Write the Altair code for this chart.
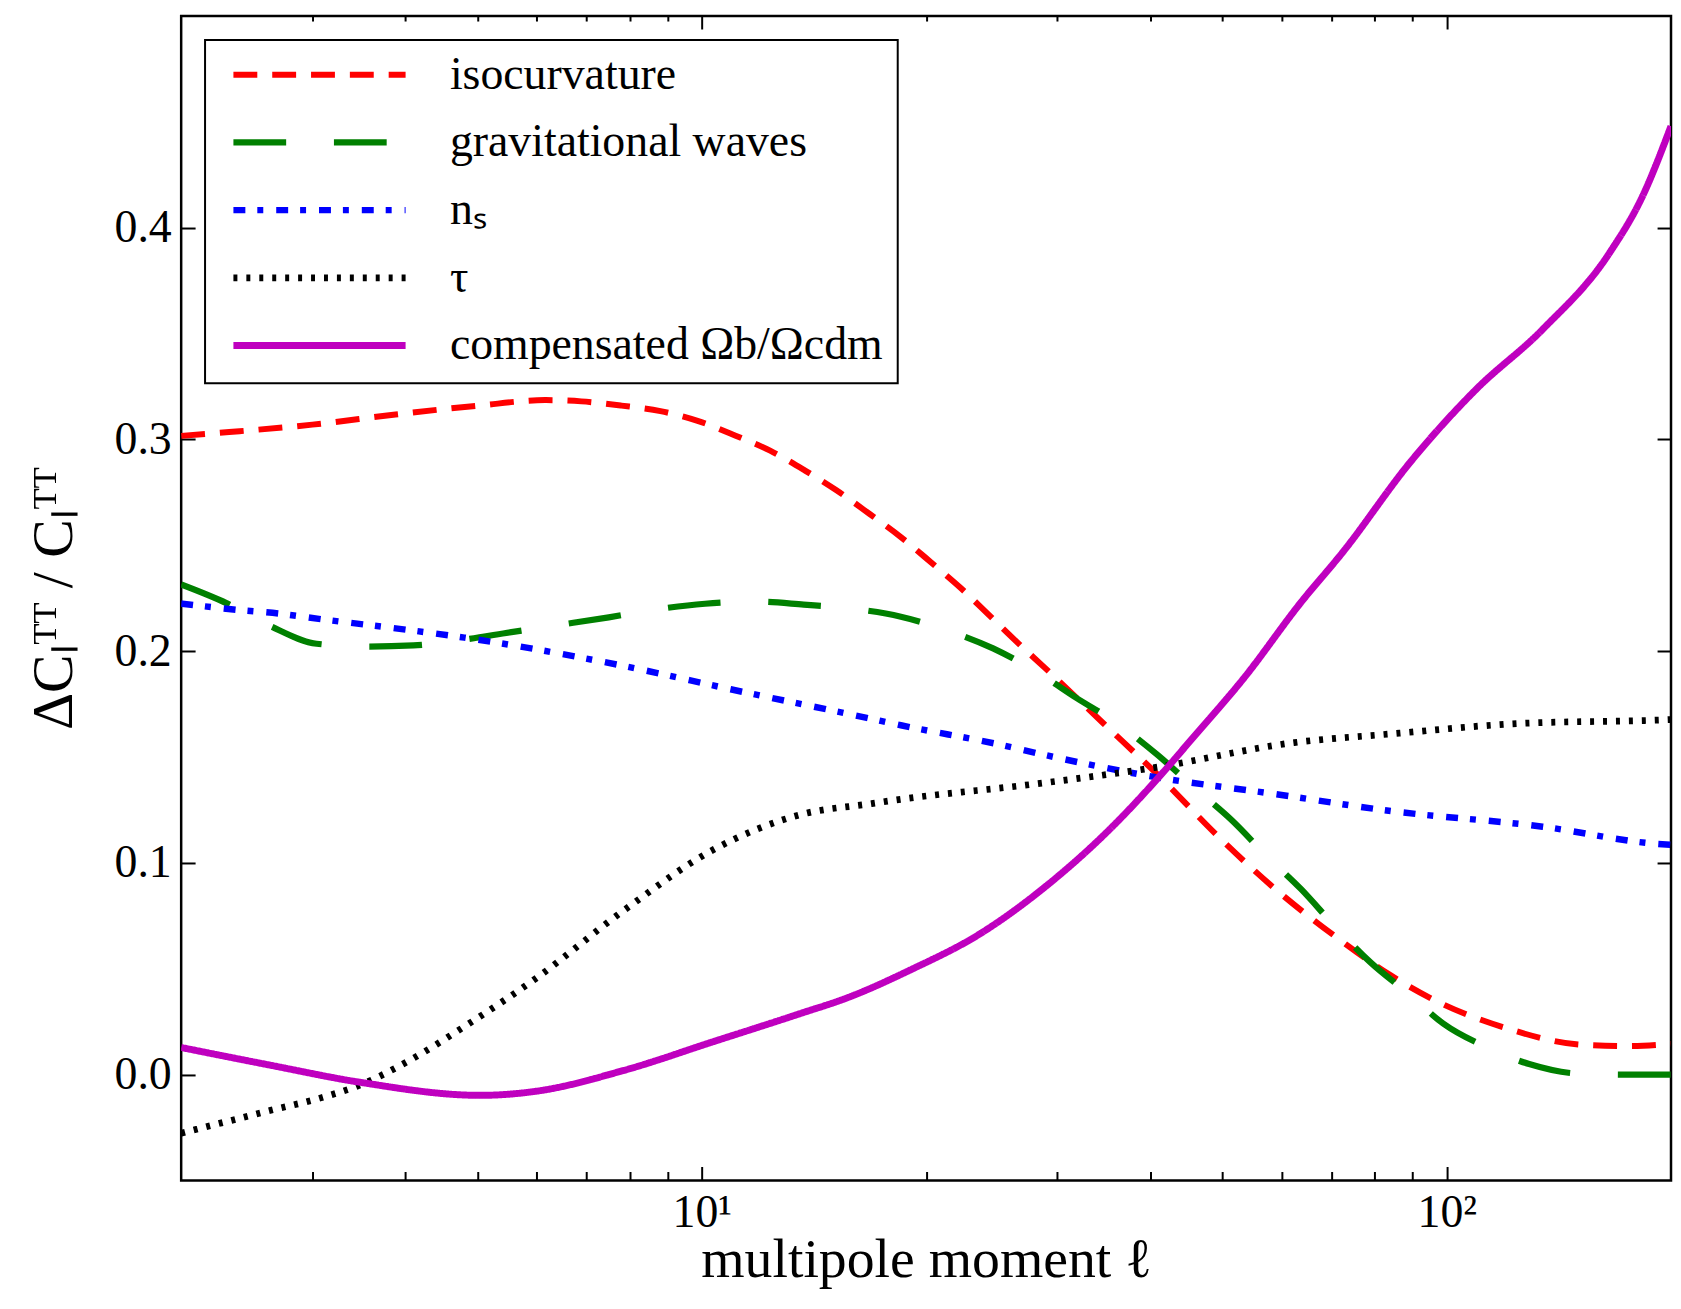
import altair as alt
import pandas as pd

FONT = "Liberation Serif"

# ---- data ----
iso_l = [2, 2.32, 3.0, 3.88, 5.02, 6.16, 6.89, 7.8, 8.8, 9.87, 11.1, 12.35, 13.76, 15.16, 16.8, 18.5,
         20.3, 22.3, 24.3, 26.6, 28.9, 34.7, 41.2, 49, 58.7, 71, 84, 96.5, 120, 153, 175, 200]
iso_v = [0.3017, 0.3035, 0.307, 0.3118, 0.316, 0.3186, 0.318, 0.316, 0.3134, 0.3088, 0.3018, 0.2947,
         0.2853, 0.276, 0.2648, 0.2539, 0.242, 0.2296, 0.217, 0.2037, 0.192, 0.1655, 0.1406, 0.1135,
         0.088, 0.065, 0.047, 0.035, 0.022, 0.014, 0.0135, 0.0145]

gw_l = [2, 2.3, 2.64, 3.04, 3.56, 4.1, 4.8, 5.55, 6.46, 7.5, 8.7, 10.1, 11.8, 13.7, 16, 18.5, 21.4,
        24.6, 28.2, 31.8, 36.4, 40.9, 46, 51.5, 57.4, 63.7, 71, 79, 89, 99, 113, 129, 150, 177, 200]
gw_v = [0.2315, 0.2227, 0.2117, 0.2035, 0.2022, 0.2027, 0.2055, 0.209, 0.2125, 0.216, 0.2198, 0.2224,
        0.2234, 0.222, 0.220, 0.2163, 0.2097, 0.2013, 0.190, 0.178, 0.165, 0.151, 0.135, 0.12, 0.103,
        0.0877, 0.0695, 0.053, 0.038, 0.024, 0.013, 0.005, 0.0005, 0.0, 0.0]

ns_l = [2, 2.35, 2.7, 3.1, 3.58, 4.8, 7.86, 10.93, 16.65, 18.5, 25.4, 28.6, 40.5, 58.6, 84.6, 134.5, 191, 200]
ns_v = [0.2225, 0.2197, 0.2178, 0.215, 0.2123, 0.2064, 0.193, 0.182, 0.1685, 0.165, 0.1555, 0.1513,
        0.1406, 0.1326, 0.1244, 0.1171, 0.109, 0.1085]

tau_l = [2, 2.29, 2.63, 3.08, 3.46, 4.08, 4.8, 5.98, 7.86, 10.37, 13.6, 16.9, 18.2, 27.6, 40.5, 62.4,
         84.6, 124.4, 197, 200]
tau_v = [-0.0277, -0.0224, -0.017, -0.011, -0.0052, 0.0073, 0.0227, 0.0453, 0.0776, 0.1063, 0.1229,
         0.128, 0.1297, 0.137, 0.145, 0.1568, 0.161, 0.1658, 0.1676, 0.1677]

comp_l = [2, 2.63, 3.46, 5.04, 5.98, 7.86, 10.37, 13.6, 15.6, 19.2, 23.5, 28.9, 35.5, 41.4, 45.6, 53.5,
          63.7, 72.6, 89.2, 109.3, 134.5, 165.3, 183.2, 200]
comp_v = [0.0128, 0.0045, -0.0035, -0.0098, -0.0079, 0.002, 0.0156, 0.029, 0.036, 0.050, 0.066,
          0.0887, 0.1168, 0.1419, 0.159, 0.1876, 0.223, 0.247, 0.289, 0.3234, 0.352, 0.388, 0.415, 0.448]

names = ["isocurvature", "gravitational waves", "nₛ", "τ", "compensated Ωb/Ωcdm"]
colors = ["#ff0000", "#008000", "#0000ff", "#000000", "#bf00bf"]
dashes = [[24, 15], [53, 48], [12, 12, 6, 13], [4, 9], [1, 0]]
widths = [6, 7, 7, 5, 5]

major_x = [10, 100]
minor_x = [3, 4, 5, 6, 7, 8, 9, 20, 30, 40, 50, 60, 70, 80, 90]
y_ticks = [0.0, 0.1, 0.2, 0.3, 0.4]

rows = []
for name, ls, vs in zip(names, [iso_l, gw_l, ns_l, tau_l, comp_l], [iso_v, gw_v, ns_v, tau_v, comp_v]):
    for l, v in zip(ls, vs):
        rows.append({"series": name, "l": l, "v": v})
df = pd.DataFrame(rows)

xscale = alt.Scale(type="log", domain=[2, 200], nice=False)
yscale = alt.Scale(domain=[-0.05, 0.5], nice=False, zero=False)

common_axis = dict(domain=False, grid=False, tickColor="black", tickWidth=2)

ax_bottom_major = alt.Axis(orient="bottom", values=major_x, tickSize=14, offset=-14,
                           labelExpr="datum.value == 10 ? '10¹' : '10²'",
                           labelFont=FONT, labelFontSize=46, labelPadding=10, labelColor="black",
                           title="multipole moment ℓ", titleFont=FONT, titleFontSize=56,
                           titleFontWeight="normal", titleColor="black",
                           titleY=111, titleBaseline="alphabetic", **common_axis)
ax_bottom_minor = alt.Axis(orient="bottom", values=minor_x, tickSize=9, offset=-9, labels=False,
                           **common_axis)
ax_top_major = alt.Axis(orient="top", values=major_x, tickSize=13, offset=-13, labels=False,
                        **common_axis)
ax_top_minor = alt.Axis(orient="top", values=minor_x, tickSize=5, offset=-5, labels=False,
                        **common_axis)

ax_left = alt.Axis(orient="left", values=y_ticks, format=".1f", tickSize=14, offset=-14,
                   labelFont=FONT, labelFontSize=46, labelPadding=10, labelColor="black",
                   title="ΔCₗᵀᵀ / Cₗᵀᵀ", titleFont=FONT, titleFontSize=58,
                   titleFontWeight="normal", titleColor="black",
                   titleX=-124, titleBaseline="alphabetic", **common_axis)
ax_right = alt.Axis(orient="right", values=y_ticks, tickSize=14, offset=-14, labels=False,
                    **common_axis)

legend = alt.Legend(orient="top-left", offset=24, title=None, symbolType="stroke",
                    symbolSize=173 ** 2, clipHeight=40, rowPadding=22, padding=15,
                    symbolOffset=10, strokeColor="black", fillColor="white",
                    labelFont=FONT, labelFontSize=46, labelColor="black", labelOffset=41,
                    labelLimit=800)

base = alt.Chart(df)

lines = base.mark_line(interpolate="monotone", clip=True, strokeCap="butt").encode(
    x=alt.X("l:Q", scale=xscale, axis=ax_bottom_major),
    y=alt.Y("v:Q", scale=yscale, axis=ax_left),
    color=alt.Color("series:N", scale=alt.Scale(domain=names, range=colors), legend=legend),
    strokeDash=alt.StrokeDash("series:N", scale=alt.Scale(domain=names, range=dashes), legend=legend),
    strokeWidth=alt.StrokeWidth("series:N", scale=alt.Scale(domain=names, range=widths), legend=legend),
)

ghost1 = base.mark_point(opacity=0, size=1).encode(
    x=alt.X("l:Q", scale=xscale, axis=ax_bottom_minor, title=None),
    y=alt.Y("v:Q", scale=yscale, axis=ax_right, title=None),
)
ghost2 = base.mark_point(opacity=0, size=1).encode(
    x=alt.X("l:Q", scale=xscale, axis=ax_top_major, title=None),
    y=alt.Y("v:Q", scale=yscale, axis=None),
)
ghost3 = base.mark_point(opacity=0, size=1).encode(
    x=alt.X("l:Q", scale=xscale, axis=ax_top_minor, title=None),
    y=alt.Y("v:Q", scale=yscale, axis=None),
)

chart = alt.layer(lines, ghost1, ghost2, ghost3).resolve_axis(
    x="independent", y="independent"
).properties(
    width=1497, height=1170,
    autosize=alt.AutoSizeParams(type="none"),
    padding={"left": 174, "top": 5, "right": 2, "bottom": 110},
).configure_view(
    stroke="black", strokeWidth=2.5
).configure_legend(
    strokeWidth=2
)

chart.save("out.html", embed_options={"renderer": "svg", "actions": False})
